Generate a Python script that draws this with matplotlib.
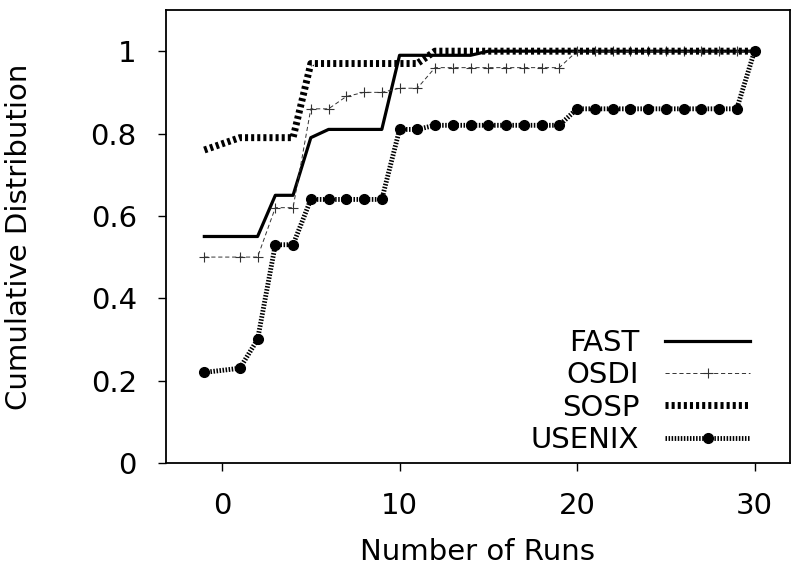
import matplotlib
matplotlib.use("Agg")
import matplotlib.pyplot as plt

plt.rcParams['font.family'] = ['DejaVu Sans']
plt.rcParams['lines.scale_dashes'] = False

# numero di run (manca lo 0 nei dati originali)
runs = [-1] + list(range(1, 31))

fast = [0.55, 0.55, 0.55, 0.65, 0.65, 0.79, 0.81, 0.81, 0.81, 0.81,
        0.99, 0.99, 0.99, 0.99, 0.99, 1.0, 1.0, 1.0, 1.0, 1.0,
        1.0, 1.0, 1.0, 1.0, 1.0, 1.0, 1.0, 1.0, 1.0, 1.0, 1.0]
osdi = [0.50, 0.50, 0.50, 0.62, 0.62, 0.86, 0.86, 0.89, 0.90, 0.90,
        0.91, 0.91, 0.96, 0.96, 0.96, 0.96, 0.96, 0.96, 0.96, 0.96,
        1.0, 1.0, 1.0, 1.0, 1.0, 1.0, 1.0, 1.0, 1.0, 1.0, 1.0]
sosp = [0.76, 0.79, 0.79, 0.79, 0.79, 0.97, 0.97, 0.97, 0.97, 0.97,
        0.97, 0.97, 1.0, 1.0, 1.0, 1.0, 1.0, 1.0, 1.0, 1.0,
        1.0, 1.0, 1.0, 1.0, 1.0, 1.0, 1.0, 1.0, 1.0, 1.0, 1.0]
usenix = [0.22, 0.23, 0.30, 0.53, 0.53, 0.64, 0.64, 0.64, 0.64, 0.64,
          0.81, 0.81, 0.82, 0.82, 0.82, 0.82, 0.82, 0.82, 0.82, 0.82,
          0.86, 0.86, 0.86, 0.86, 0.86, 0.86, 0.86, 0.86, 0.86, 0.86, 1.0]

yticks = [0, 0.2, 0.4, 0.6, 0.8, 1]
yticklabels = ['0', '0.2', '0.4', '0.6', '0.8', '1']
xticks = [0, 10, 20, 30]

fig = plt.figure(figsize=(8, 5.74), dpi=100)
ax = fig.add_axes([0.2075, 0.1934, 0.78, 0.7892])

ax.plot(runs, fast, color='black', linewidth=2.3, label='FAST')
ax.plot(runs, osdi, color='#333333', linewidth=0.7, dashes=(3, 2),
        marker='+', markersize=7, markeredgewidth=0.8, label='OSDI')
ax.plot(runs, sosp, color='black', linewidth=5, dashes=(2.2, 2.2), label='SOSP')
ax.plot(runs, usenix, color='black', linewidth=3.5, dashes=(1.1, 1.1),
        marker='o', markersize=7, label='USENIX')

ax.set_xlim(-3.16, 32.0)
ax.set_ylim(0, 1.1)
ax.set_xticks(xticks)
ax.set_yticks(yticks)
ax.set_yticklabels(yticklabels)
ax.tick_params(direction='out', length=6, width=1, labelsize=21, pad=15,
               top=False, right=False)

for s in ax.spines.values():
    s.set_linewidth(1.3)

ax.set_xlabel('Number of Runs', fontsize=21)
ax.set_ylabel('Cumulative Distribution', fontsize=21)
ax.xaxis.set_label_coords(0.5, -0.165)
ax.yaxis.set_label_coords(-0.213, 0.5)

leg = ax.legend(loc='lower right', bbox_to_anchor=(0.936, 0.02), frameon=False,
                fontsize=21, markerfirst=False, handlelength=2.9,
                handletextpad=0.9, labelspacing=0.15, numpoints=1,
                borderpad=0, borderaxespad=0)

fig.savefig('out.png', dpi=100)
